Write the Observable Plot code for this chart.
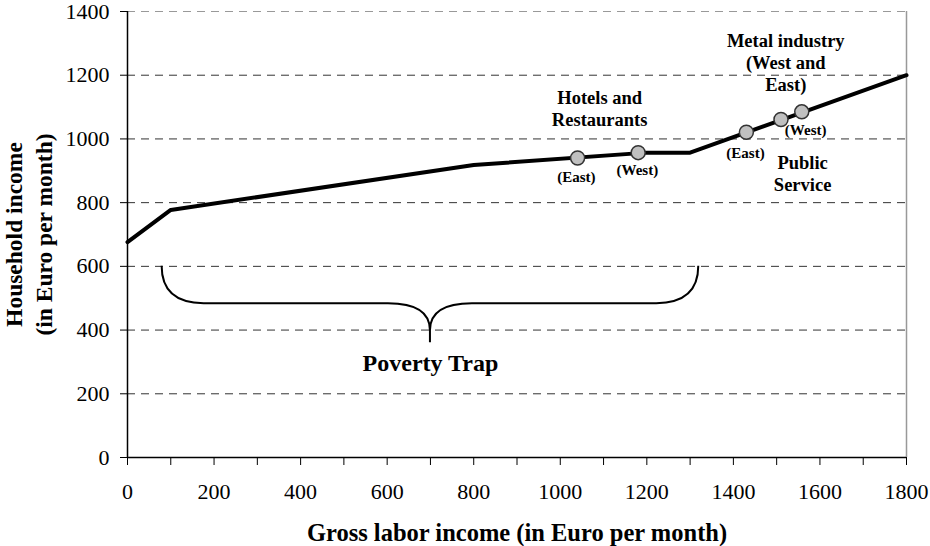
<!DOCTYPE html>
<html>
<head>
<meta charset="utf-8">
<script src="https://cdn.jsdelivr.net/npm/d3@7"></script>
<script src="https://cdn.jsdelivr.net/npm/@observablehq/plot@0.6"></script>
<style>
  html, body { margin: 0; padding: 0; background: #fff; }
</style>
</head>
<body>
<div id="chart"></div>
<script>
// Household income schedule (kinked line)
const lineX = [0, 100, 800, 1200, 1300, 1800];
const lineY = [676, 777, 918, 957, 957, 1200];

// Sector markers
const pointX = [1040, 1180, 1430, 1510, 1558];
const pointY = [940, 957, 1021, 1061, 1085];

// Small (East)/(West) labels
const smallLabels = ["(East)", "(West)", "(East)", "(West)"];
const smallLabelX = [1037, 1178, 1428, 1567];
const smallLabelY = [880, 901, 955, 1027];

// Sector group labels
const groupLabels = ["Hotels and\nRestaurants", "Public\nService", "Metal industry\n(West and\nEast)"];
const groupLabelX = [1091, 1560, 1521];
const groupLabelY = [1097, 893, 1241];

// Poverty trap brace: [left end, centre tip, right end] and [top, middle, tip]
const braceX = [80, 700, 1320];
const braceY = [600, 483, 360];
const braceLabel = ["Poverty Trap"];
const braceLabelY = [297];

// Axes
const xTickValues = [0,100,200,300,400,500,600,700,800,900,1000,1100,1200,1300,1400,1500,1600,1700,1800];
const xTickLabels = ["0","","200","","400","","600","","800","","1000","","1200","","1400","","1600","","1800"];
const yTickValues = [0,200,400,600,800,1000,1200,1400];
const yTickLabels = ["0","200","400","600","800","1000","1200","1400"];
const gridValues = [200,400,600,800,1000,1200];
const xTitle = "Gross labor income (in Euro per month)";
const yTitle = "Household income\n(in Euro per month)";

const lineData = lineX.map((x, i) => ({x, y: lineY[i]}));
const pointData = pointX.map((x, i) => ({x, y: pointY[i]}));
const smallData = smallLabels.map((t, i) => ({t, x: smallLabelX[i], y: smallLabelY[i]}));
const groupData = groupLabels.map((t, i) => ({t, x: groupLabelX[i], y: groupLabelY[i]}));

function braceMark(index, scales) {
  const {x, y} = scales;
  const x0 = x(braceX[0]), xc = x(braceX[1]), x1 = x(braceX[2]);
  const yTop = y(braceY[0]), yMid = y(braceY[1]), yTip = y(braceY[2]);
  const r = 42, k = 27;
  const d = [
    `M${x0},${yTop}`,
    `Q${x0},${yMid} ${x0 + r},${yMid}`,
    `L${xc - r},${yMid}`,
    `Q${xc},${yMid} ${xc},${yMid + k}`,
    `L${xc},${yTip}`,
    `M${xc},${yMid + k}`,
    `Q${xc},${yMid} ${xc + r},${yMid}`,
    `L${x1 - r},${yMid}`,
    `Q${x1},${yMid} ${x1},${yTop}`
  ].join(" ");
  return d3.create("svg:path")
    .attr("d", d)
    .attr("fill", "none")
    .attr("stroke", "black")
    .attr("stroke-width", 2)
    .node();
}

const chart = Plot.plot({
  width: 930,
  height: 546,
  marginLeft: 127,
  marginRight: 24,
  marginTop: 11,
  marginBottom: 89,
  style: {fontFamily: "'Liberation Serif', 'Times New Roman', serif", fontSize: "22px", color: "black", background: "white"},
  x: {
    domain: [0, 1800],
    ticks: xTickValues,
    tickFormat: d => xTickLabels[xTickValues.indexOf(d)],
    tickSize: 8,
    tickPadding: 18,
    label: null
  },
  y: {
    domain: [0, 1400],
    ticks: yTickValues,
    tickFormat: d => yTickLabels[yTickValues.indexOf(d)],
    tickSize: 7,
    tickPadding: 11,
    label: null
  },
  marks: [
    Plot.ruleY(gridValues, {stroke: "#333", strokeWidth: 1, strokeDasharray: "8,6"}),
    Plot.ruleY([1400], {stroke: "#999", strokeWidth: 1.2, strokeDasharray: "8,6"}),
    Plot.ruleX([1800], {stroke: "#999", strokeWidth: 1.5}),
    Plot.ruleX([0], {stroke: "black", strokeWidth: 1.5}),
    Plot.ruleY([0], {stroke: "black", strokeWidth: 1.5}),
    braceMark,
    Plot.line(lineData, {x: "x", y: "y", stroke: "black", strokeWidth: 4, strokeLinejoin: "miter"}),
    Plot.dot(pointData, {x: "x", y: "y", r: 7, fill: "#c0c0c0", stroke: "#333", strokeWidth: 1.5}),
    Plot.text(smallData, {x: "x", y: "y", text: "t", fontSize: 15, fontWeight: "bold", textAnchor: "middle", lineAnchor: "middle"}),
    Plot.text(groupData, {x: "x", y: "y", text: "t", fontSize: 18.5, fontWeight: "bold", textAnchor: "middle", lineAnchor: "middle", lineHeight: 1.2}),
    Plot.text(braceLabel, {x: braceX[1], y: braceLabelY[0], text: d => d, fontSize: 24, fontWeight: "bold", textAnchor: "middle", lineAnchor: "middle"}),
    Plot.text([xTitle], {frameAnchor: "bottom", text: d => d, dy: 76, fontSize: 24.5, fontWeight: "bold", textAnchor: "middle", lineAnchor: "middle"}),
    Plot.text([yTitle], {frameAnchor: "left", text: d => d, dx: -100, rotate: -90, fontSize: 23.5, fontWeight: "bold", textAnchor: "middle", lineAnchor: "middle", lineHeight: 1.27})
  ]
});
document.getElementById("chart").appendChild(chart);
</script>
</body>
</html>
